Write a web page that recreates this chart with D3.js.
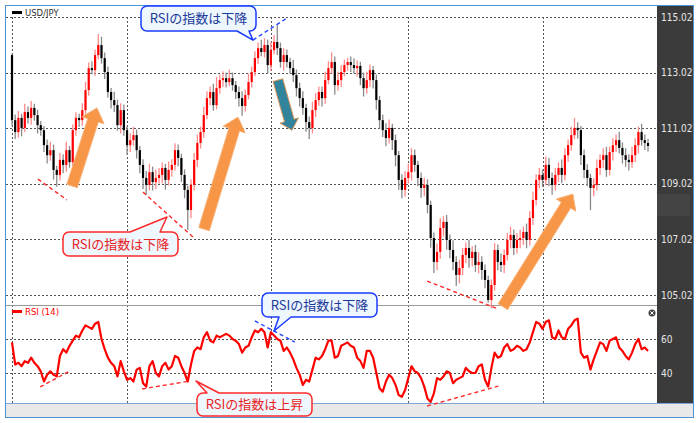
<!DOCTYPE html>
<html><head><meta charset="utf-8">
<script src="https://cdn.jsdelivr.net/npm/d3@7/dist/d3.min.js"></script>
<style>body{margin:0;background:#fff}svg{display:block}</style>
</head><body><svg id="c" width="700" height="423"></svg>
<script>
// ---------- DATA ----------
const firstOpen = 113.65;
const closes = [
111.31,110.88,111.39,111.03,111.60,111.39,111.75,111.49,111.13,110.95,
110.41,110.05,110.23,109.52,109.34,109.88,109.70,110.23,109.80,110.95,
111.39,111.31,111.67,112.39,113.18,113.11,113.65,114.01,113.54,113.04,
112.32,112.03,111.85,111.13,111.67,110.95,110.41,110.59,110.77,110.23,
109.70,109.23,108.98,109.44,109.08,109.23,109.34,109.59,109.16,109.52,
109.70,110.23,109.95,109.34,108.80,108.08,108.98,109.88,110.49,110.88,
111.49,112.10,112.32,111.85,112.46,112.75,112.82,112.68,112.82,112.57,
112.32,112.10,111.82,112.21,112.68,113.04,113.54,113.90,113.76,114.01,
113.29,113.83,114.12,113.90,113.40,113.65,113.40,113.18,112.93,112.46,
112.10,111.75,111.24,111.03,111.67,112.03,112.32,112.10,112.75,113.18,
113.40,112.57,112.75,113.04,113.29,113.40,113.29,113.18,113.26,112.82,
112.46,112.75,113.11,112.75,112.03,111.31,110.95,110.67,111.03,110.59,
110.05,109.16,108.80,109.23,109.44,110.05,109.70,109.23,108.87,108.98,
108.26,107.07,106.21,106.57,107.43,107.65,107.00,106.64,106.21,105.74,
105.99,106.46,106.71,106.35,106.57,106.10,106.21,105.92,105.56,104.84,
105.38,106.64,106.21,106.10,106.46,107.00,107.18,106.71,107.00,107.07,
107.29,107.00,107.79,108.44,109.16,109.34,109.16,109.70,109.23,108.98,
109.34,109.59,109.34,110.05,110.41,110.77,111.03,110.95,110.05,109.52,
109.23,108.87,108.98,109.59,109.88,110.05,109.52,110.16,110.41,110.59,
110.31,110.05,109.88,109.80,110.05,110.41,110.88,110.59,110.49,110.38];
const upperWicks = [
.05,.2,.25,.15,.3,.2,.25,.15,.2,.15, .15,.2,.3,.2,.15,.25,.2,.3,.15,.2,
.2,.15,.25,.3,.2,.25,.2,.4,.3,.2, .2,.15,.3,.2,.25,.2,.15,.25,.3,.2,
.15,.2,.25,.3,.2,.3,.25,.2,.15,.3, .2,.25,.2,.15,.2,.15,.2,.25,.3,.2,
.3,.25,.2,.3,.4,.2,.25,.2,.3,.2, .15,.2,.25,.2,.3,.2,.25,.2,.3,.25,
.2,.3,.25,.6,.2,.25,.2,.15,.3,.2, .2,.25,.15,.2,.3,.25,.2,.2,.3,.25,
.35,.2,.3,.25,.2,.15,.2,.25,.2,.15, .2,.3,.2,.15,.2,.15,.2,.25,.3,.15,
.2,.15,.2,.25,.3,.25,.2,.15,.2,.25, .2,.15,.2,.3,.35,.2,.25,.2,.35,.2,
.3,.25,.2,.3,.2,.25,.35,.2,.2,.15, .2,.25,.2,.3,.2,.25,.3,.2,.25,.3,
.2,.3,.25,.3,.2,.25,.2,.3,.25,.2, .25,.2,.3,.25,.2,.3,.35,.2,.15,.2,
.2,.15,.25,.3,.2,.25,.3,.2,.25,.2, .3,.2,.25,.2,.3,.25,.2,.3,.2,.15];
const lowerWicks = [
.2,.25,.2,.3,.15,.2,.25,.2,.3,.2, .25,.3,.2,.35,.43,.2,.3,.25,.2,.15,
.2,.25,.2,.15,.2,.15,.2,.15,.2,.25, .2,.3,.25,.2,.3,.2,.35,.25,.2,.3,
.3,.4,.35,.2,.3,.25,.2,.3,.35,.2, .25,.2,.3,.25,.3,.72,.3,.2,.25,.2,
.2,.15,.25,.2,.15,.2,.25,.2,.15,.2, .25,.3,.35,.2,.15,.2,.15,.2,.15,.2,
.3,.2,.15,.25,.2,.3,.2,.2,.25,.3, .3,.25,.35,.4,.2,.25,.2,.3,.2,.15,
.2,.35,.2,.25,.15,.2,.25,.2,.3,.25, .3,.2,.25,.3,.35,.3,.25,.3,.2,.35,
.4,.35,.3,.25,.2,.3,.25,.3,.35,.3, .3,.35,.4,.3,.25,.3,.35,.3,.3,.4,
.3,.25,.3,.35,.3,.25,.3,.35,.3,.1, .3,.2,.3,.25,.3,.2,.3,.25,.2,.3,
.25,.3,.2,.25,.2,.3,.25,.2,.3,.35, .2,.25,.3,.2,.25,.2,.15,.3,.35,.3,
.3,.8,.3,.2,.25,.3,.25,.2,.3,.25, .2,.3,.25,.3,.2,.25,.3,.2,.25,.2];
const rsi = [
58,45,46,44,47,46,49,46,44,41, 35,39,41,39,38,50,54,52,56,59,
62,61,65,68,67,66,69,70,60,54, 49,46,44,38,47,41,36,37,35,42,
43,34,32,44,47,40,38,44,46,42, 44,50,49,44,40,35,45,53,55,54,
61,64,59,58,62,61,62,63,62,60, 59,57,52,55,56,61,65,64,66,64,
55,64,62,60,59,53,55,52,48,43, 39,33,36,35,42,49,48,50,54,59,
59,49,50,56,57,58,56,55,49,47, 43,53,53,49,40,31,29,35,39,37,
33,27,26,30,37,44,41,40,37,32, 25,23,28,37,36,38,41,40,34,36,
37,38,43,41,40,40,44,45,36,32, 43,52,49,50,55,57,53,54,56,55,
53,54,58,64,70,69,66,70,71,61, 60,65,61,60,66,68,71,72,52,49,
50,42,48,53,58,57,53,59,60,61, 55,53,50,48,52,57,60,54,55,53];
const priceTicks = [105.02,107.02,109.02,111.02,113.02,115.02];
const rsiTicks = [40,60];
const gridIdx = [0,36,81,124,166];
const seriesName = "USD/JPY";
const rsiName = "RSI (14)";
const calloutText = ["RSIの指数は下降","RSIの指数は下降","RSIの指数は下降","RSIの指数は上昇"];

// ---------- SCALES ----------
const svg = d3.select("#c");
const x = d3.scaleLinear().domain([0, closes.length-1]).range([12, 648]);
const y = d3.scaleLinear().domain([105.02, 115.02]).range([295, 17]);
const yr = d3.scaleLinear().domain([40, 60]).range([373, 339]);

const L = 5, R = 657, T = 5, SEP = 305, BOT = 403;

// background
svg.append("rect").attr("x",0).attr("y",0).attr("width",700).attr("height",423).attr("fill","#fff");
svg.append("rect").attr("x",L).attr("y",T).attr("width",R-L).attr("height",BOT-T).attr("fill","#fff");

// grid
const gridStyle = s => s.attr("stroke","#555").attr("stroke-width",1).attr("stroke-dasharray","2,2").attr("shape-rendering","crispEdges");
priceTicks.forEach(v => {
  svg.append("line").attr("x1",L+1).attr("x2",R).attr("y1",Math.round(y(v))+0.5).attr("y2",Math.round(y(v))+0.5).call(gridStyle);
});
rsiTicks.forEach(v => {
  svg.append("line").attr("x1",L+1).attr("x2",R).attr("y1",Math.round(yr(v))+0.5).attr("y2",Math.round(yr(v))+0.5).call(gridStyle);
});
gridIdx.forEach(i => {
  const gx = Math.round(x(i))+0.5;
  svg.append("line").attr("x1",gx).attr("x2",gx).attr("y1",y(115.02)).attr("y2",SEP).call(gridStyle);
  svg.append("line").attr("x1",gx).attr("x2",gx).attr("y1",SEP).attr("y2",BOT).call(gridStyle);
});

// separator
svg.append("line").attr("x1",L).attr("x2",R).attr("y1",SEP+0.5).attr("y2",SEP+0.5).attr("stroke","#9a9a9a").attr("stroke-width",1);

// candles
const cd = closes.map((c,i) => {
  const o = i===0 ? firstOpen : closes[i-1];
  return {i, o, c, h: Math.max(o,c)+upperWicks[i], l: Math.min(o,c)-lowerWicks[i], up: c >= o};
});
const cg = svg.append("g");
cg.selectAll("line.w").data(cd).join("line").attr("class","w")
  .attr("x1",d=>x(d.i)).attr("x2",d=>x(d.i)).attr("y1",d=>y(d.h)).attr("y2",d=>y(d.l))
  .attr("stroke",d=>d.up?"#ff8a8a":"#8a8a8a").attr("stroke-width",1.3);
cg.selectAll("rect.b").data(cd).join("rect").attr("class","b")
  .attr("x",d=>x(d.i)-1.1).attr("width",2.2)
  .attr("y",d=>y(Math.max(d.o,d.c)))
  .attr("height",d=>Math.max(1, Math.abs(y(d.o)-y(d.c))))
  .attr("fill",d=>d.up?"#ff0000":"#000");

// RSI line
svg.append("path").datum(rsi)
  .attr("d", d3.line().x((d,i)=>x(i)).y(d=>yr(d)))
  .attr("fill","none").attr("stroke","#ff0000").attr("stroke-width",2.2).attr("stroke-linejoin","round");

// legends
svg.append("rect").attr("x",12).attr("y",11).attr("width",10).attr("height",3).attr("fill","#000");
svg.append("text").attr("x",25).attr("y",15.5).text(seriesName)
  .attr("font-family","DejaVu Sans, sans-serif").attr("font-size",8.5).attr("fill","#333");
svg.append("rect").attr("x",12).attr("y",310).attr("width",10).attr("height",3).attr("fill","#ff0000");
svg.append("text").attr("x",25).attr("y",314.5).text(rsiName)
  .attr("font-family","DejaVu Sans, sans-serif").attr("font-size",8.5).attr("fill","#ff0000");

// right axis panel
svg.append("rect").attr("x",R).attr("y",T).attr("width",694-R).attr("height",BOT-T).attr("fill","#3b3b3b");
svg.append("rect").attr("x",R).attr("y",194).attr("width",33).attr("height",22).attr("fill","#444");
const axFont = "Liberation Sans Narrow, DejaVu Sans Condensed, sans-serif";
priceTicks.forEach(v => {
  svg.append("text").attr("x",661).attr("y",y(v)+3.5).text(v.toFixed(2))
    .attr("font-family",axFont).attr("font-size",10).attr("fill","#e6e6e6");
});
rsiTicks.forEach(v => {
  svg.append("text").attr("x",661).attr("y",yr(v)+3.5).text(v)
    .attr("font-family",axFont).attr("font-size",10).attr("fill","#e6e6e6");
});

// scrollbar & border
svg.append("rect").attr("x",L).attr("y",BOT).attr("width",694-L).attr("height",417-BOT).attr("fill","#e9e9e9");
svg.append("line").attr("x1",L).attr("x2",694).attr("y1",BOT+0.5).attr("y2",BOT+0.5).attr("stroke","#7aa7d6");
svg.append("rect").attr("x",L+0.5).attr("y",T+0.5).attr("width",694-L-1).attr("height",417-T).attr("fill","none").attr("stroke","#4f93d2").attr("stroke-width",1);

// close icon
svg.append("circle").attr("cx",652).attr("cy",313).attr("r",3.5).attr("fill","#444");
svg.append("path").attr("d","M650.3,311.3L653.7,314.7M653.7,311.3L650.3,314.7").attr("stroke","#fff").attr("stroke-width",1);

// dashed trend lines (index, value)
function dline(a,b,sc,col){
  svg.append("line").attr("x1",x(a[0])).attr("y1",sc(a[1])).attr("x2",x(b[0])).attr("y2",sc(b[1]))
    .attr("stroke",col).attr("stroke-width",1.4).attr("stroke-dasharray","4,3");
}
const RED="#ff2a2a", BLUE="#2244ff";
dline([8.1,109.19],[17.2,108.44],y,RED);
dline([41,108.72],[56.6,107.11],y,RED);
dline([129.9,105.52],[152.1,104.52],y,RED);
dline([75.4,114.19],[86,114.98],y,BLUE);
dline([8.8,31.8],[18.1,41.2],yr,RED);
dline([40.7,30.6],[55.7,35.3],yr,RED);
dline([129.9,20.6],[152.4,32.4],yr,RED);
dline([76,70.6],[88.5,58.2],yr,BLUE);

// arrows
function arrow(t,p,w,hw,hl,fill,stroke){
  const tx=x(t[0]), ty=y(t[1]), px=x(p[0]), py=y(p[1]);
  const dx=px-tx, dy=py-ty, len=Math.hypot(dx,dy), ux=dx/len, uy=dy/len, nx=-uy, ny=ux;
  const hx=px-ux*hl, hy=py-uy*hl;
  const pts=[[tx+nx*w/2,ty+ny*w/2],[hx+nx*w/2,hy+ny*w/2],[hx+nx*hw/2,hy+ny*hw/2],[px,py],
             [hx-nx*hw/2,hy-ny*hw/2],[hx-nx*w/2,hy-ny*w/2],[tx-nx*w/2,ty-ny*w/2]];
  svg.append("path").attr("d","M"+pts.map(q=>q.join(",")).join("L")+"Z")
    .attr("fill",fill).attr("stroke",stroke).attr("stroke-width",1);
}
arrow([18.8,108.94],[26.6,111.75],11,23,13,"#f79646","#f7b27a");
arrow([60.1,107.39],[70.7,111.42],11,23,13,"#f79646","#f7b27a");
arrow([153.6,104.60],[175.5,108.65],11,23,13,"#f79646","#f7b27a");
arrow([83.2,112.75],[87.6,110.95],10,19,10,"#31849b","#d9955a");

// callouts
function bubble(bx,by,w,h,r,edge,a,b,tx,ty){
  let d=`M${bx+r},${by}`;
  if(edge==="top") d+=`L${a},${by}L${tx},${ty}L${b},${by}`;
  d+=`L${bx+w-r},${by}A${r},${r} 0 0 1 ${bx+w},${by+r}L${bx+w},${by+h-r}A${r},${r} 0 0 1 ${bx+w-r},${by+h}`;
  if(edge==="bottom") d+=`L${b},${by+h}L${tx},${ty}L${a},${by+h}`;
  d+=`L${bx+r},${by+h}A${r},${r} 0 0 1 ${bx},${by+h-r}L${bx},${by+r}A${r},${r} 0 0 1 ${bx+r},${by}Z`;
  return d;
}
function callout(bx,by,w,h,edge,a,b,tx,ty,col,tcol,txt){
  svg.append("path").attr("d",bubble(bx,by,w,h,6,edge,a,b,tx,ty))
    .attr("fill","#eef6fe").attr("stroke",col).attr("stroke-width",1.5).attr("stroke-linejoin","round");
  svg.append("text").attr("x",bx+w/2).attr("y",by+h/2+4.5).attr("text-anchor","middle").text(txt)
    .attr("font-family","Noto Sans CJK JP, sans-serif").attr("font-size",13).attr("fill",tcol);
}
callout(141,6,115,25,"bottom",237,249,x(75.4),y(114.19),"#1a3cff","#1a3a9a",calloutText[0]);
callout(63,232,115,24,"top",130,160,167,217,"#ff2a2a","#e81e1e",calloutText[1]);
callout(262,293,115,24,"bottom",279,291,274,331,"#1a3cff","#1a3a9a",calloutText[2]);
callout(197,393,115,23,"top",207,219,196,381,"#ff2a2a","#e81e1e",calloutText[3]);
</script></body></html>
